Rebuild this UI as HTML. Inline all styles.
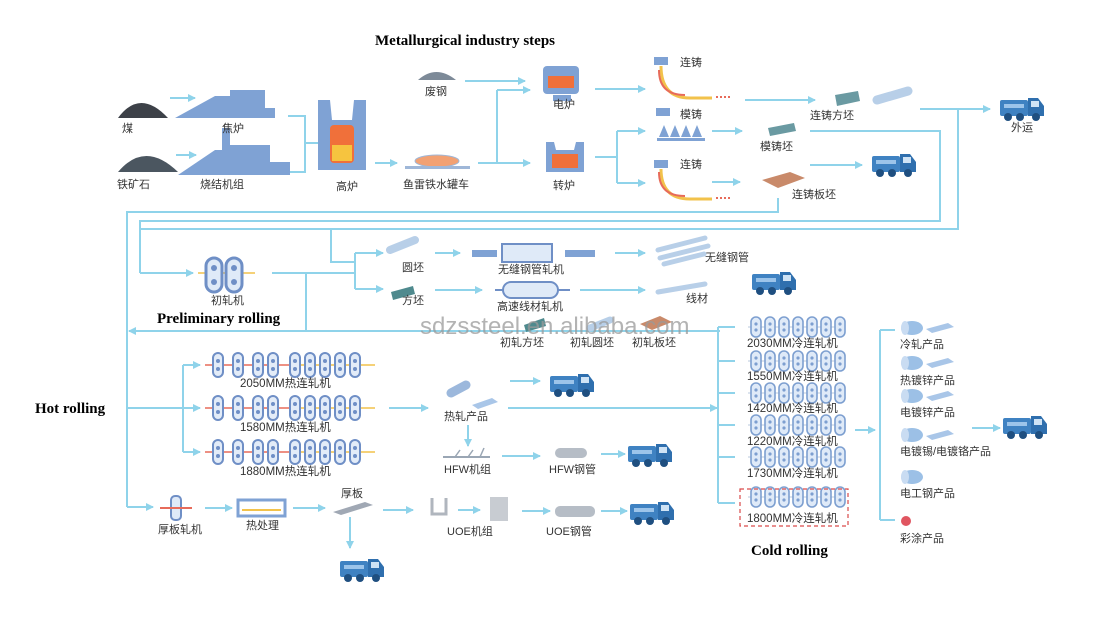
<!DOCTYPE html>
<html><head><meta charset="utf-8"><style>
html,body{margin:0;padding:0;background:#fff;}
svg{display:block;}
.t{font-family:"Liberation Sans","Noto Sans CJK SC",sans-serif;font-size:11px;fill:#333;}
.m{font-family:"Liberation Sans","Noto Sans CJK SC",sans-serif;font-size:11.5px;fill:#333;}
.h{font-family:"Liberation Serif",serif;font-size:15px;font-weight:bold;fill:#000;}
.l{stroke:#8fd3ea;stroke-width:2;fill:none;}
.a{stroke:#8fd3ea;stroke-width:2;fill:none;marker-end:url(#ar);}
</style></head><body>
<svg width="1120" height="642" viewBox="0 0 1120 642" xmlns="http://www.w3.org/2000/svg">
<defs>
<marker id="ar" markerWidth="8" markerHeight="8" refX="7" refY="4" orient="auto" markerUnits="userSpaceOnUse"><path d="M0,0 L8,4 L0,8 Z" fill="#8fd3ea"/></marker>
<g id="truck">
<rect x="0" y="6" width="28" height="16" rx="2" fill="#3f82c2"/>
<path d="M28,4 L38,4 L44,12 L44,22 L28,22 Z" fill="#2f6fae"/>
<rect x="31" y="7" width="8" height="6" fill="#cfe3f5"/>
<rect x="4" y="10" width="20" height="4" fill="#9cc4ea"/>
<circle cx="8" cy="23" r="4" fill="#1f4f80"/><circle cx="20" cy="23" r="4" fill="#1f4f80"/><circle cx="36" cy="23" r="4" fill="#1f4f80"/>
</g>
<g id="hu"><rect x="-5" y="-12" width="10" height="24" rx="5" fill="#e3ecf8" stroke="#6f8fc6" stroke-width="2"/><circle cx="0" cy="-4" r="2" fill="#6f8fc6"/><circle cx="0" cy="4" r="2" fill="#6f8fc6"/></g>
<g id="cu"><rect x="-5" y="-10" width="10" height="20" rx="5" fill="#dfeaf8" stroke="#7d9fd0" stroke-width="1.6"/><circle cx="0" cy="-3" r="1.6" fill="#7d9fd0"/><circle cx="0" cy="3" r="1.6" fill="#7d9fd0"/></g>
<g id="hrow">
<line x1="205" y1="0" x2="290" y2="0" stroke="#e76b5a" stroke-width="1.5"/><line x1="290" y1="0" x2="375" y2="0" stroke="#f2c24b" stroke-width="1.5"/>
<use href="#hu" x="218"/><use href="#hu" x="238"/><use href="#hu" x="258"/><use href="#hu" x="273"/><use href="#hu" x="295"/><use href="#hu" x="310"/><use href="#hu" x="325"/><use href="#hu" x="340"/><use href="#hu" x="355"/>
</g>
<g id="crow">
<line x1="748" y1="0" x2="845" y2="0" stroke="#b8c8dc" stroke-width="1"/>
<use href="#cu" x="756"/><use href="#cu" x="770"/><use href="#cu" x="784"/><use href="#cu" x="798"/><use href="#cu" x="812"/><use href="#cu" x="826"/><use href="#cu" x="840"/>
</g>
<g id="coil"><ellipse cx="0" cy="0" rx="11" ry="7" fill="#9cc0e6"/><ellipse cx="-7" cy="0" rx="4" ry="7" fill="#c9dcf2"/></g>
<g id="sheet"><path d="M0,4 L22,-2 L28,2 L6,8 Z" fill="#a9c6e8"/></g>
</defs>

<!-- titles -->
<text class="h" x="375" y="45">Metallurgical industry steps</text>
<text class="h" x="157" y="323">Preliminary rolling</text>
<text class="h" x="35" y="413">Hot rolling</text>
<text class="h" x="751" y="555">Cold rolling</text>

<!-- Top raw materials -->
<path d="M118,118 Q140,88 168,118 Z" fill="#3d4148"/>
<path d="M118,172 Q145,140 178,172 Z" fill="#4b5660"/>
<path d="M175,118 L215,96 L230,96 L230,90 L265,90 L265,108 L275,108 L275,118 Z" fill="#7fa2d4"/>
<path d="M178,175 L215,150 L222,150 L222,128 L230,128 L230,145 L270,145 L270,162 L290,162 L290,175 Z" fill="#7fa2d4"/>
<text class="t" x="122" y="132">煤</text><text class="t" x="222" y="132">焦炉</text>
<text class="t" x="117" y="188">铁矿石</text><text class="t" x="200" y="188">烧结机组</text>
<path class="a" d="M170,98 L195,98"/><path class="a" d="M176,155 L196,155"/>
<path class="l" d="M288,116 L305,116 L305,172 L290,172"/><path class="a" d="M305,143 L328,143"/>
<!-- blast furnace -->
<path d="M318,100 L330,100 L332,120 L352,120 L354,100 L366,100 L366,170 L318,170 Z" fill="#7fa2d4"/>
<rect x="330" y="125" width="24" height="38" rx="4" fill="#f0703a"/><rect x="332" y="145" width="20" height="16" fill="#f6c43f"/>
<text class="t" x="336" y="190">高炉</text>
<path class="a" d="M375,163 L397,163"/>
<ellipse cx="437" cy="161" rx="22" ry="6" fill="#f2a173" stroke="#9fb7d8"/><rect x="405" y="166" width="65" height="3" fill="#9fb7d8"/>
<text class="t" x="403" y="188">鱼雷铁水罐车</text>
<path class="l" d="M478,163 L497,163 L497,90"/><path class="a" d="M497,163 L530,163"/><path class="a" d="M497,90 L530,90"/>
<path d="M418,80 Q436,64 456,80 Z" fill="#7d8a98"/>
<text class="t" x="425" y="95">废钢</text>
<path class="a" d="M465,81 L525,81"/>
<!-- electric furnace -->
<rect x="543" y="66" width="36" height="28" rx="4" fill="#7fa2d4"/><rect x="548" y="76" width="26" height="12" fill="#f0703a"/><rect x="553" y="95" width="18" height="6" fill="#7fa2d4"/>
<text class="t" x="553" y="108">电炉</text>
<path d="M546,142 L554,142 L556,150 L574,150 L576,142 L584,142 L584,172 L546,172 Z" fill="#7fa2d4"/><rect x="552" y="154" width="26" height="14" fill="#f0703a"/>
<text class="t" x="553" y="189">转炉</text>
<path class="a" d="M595,89 L645,89"/>
<path class="l" d="M595,157 L617,157"/><path class="l" d="M617,131 L617,183"/><path class="a" d="M617,131 L645,131"/><path class="a" d="M617,183 L645,183"/>
<!-- casting -->
<g><rect x="654" y="57" width="14" height="8" fill="#7fa2d4"/><path d="M661,66 Q661,98 690,98 L712,98" stroke="#f2c24b" stroke-width="3" fill="none"/><path d="M659,70 Q659,95 685,95" stroke="#e76b5a" stroke-width="2" fill="none"/><line x1="716" y1="97" x2="730" y2="97" stroke="#e76b5a" stroke-width="2" stroke-dasharray="2,2"/></g>
<text class="t" x="680" y="66">连铸</text>
<g><rect x="654" y="160" width="14" height="8" fill="#7fa2d4"/><path d="M661,169 Q661,199 690,199 L712,199" stroke="#f2c24b" stroke-width="3" fill="none"/><path d="M659,172 Q659,196 685,196" stroke="#e76b5a" stroke-width="2" fill="none"/><line x1="716" y1="198" x2="730" y2="198" stroke="#e76b5a" stroke-width="2" stroke-dasharray="2,2"/></g>
<text class="t" x="680" y="168">连铸</text>
<rect x="656" y="108" width="14" height="8" fill="#7fa2d4"/>
<path d="M659,137 L664,125 L669,137 Z M670,137 L675,125 L680,137 Z M681,137 L686,125 L691,137 Z M692,137 L697,125 L702,137 Z" fill="#7fa2d4"/>
<rect x="657" y="138" width="48" height="3" fill="#7fa2d4"/>
<text class="t" x="680" y="118">模铸</text>
<path class="a" d="M745,100 L815,100"/>
<path d="M835,95 L858,91 L860,101 L837,106 Z" fill="#6a9aa2"/>
<path d="M877,100 L908,91" stroke="#b8cfe8" stroke-width="9" stroke-linecap="round"/>
<text class="t" x="810" y="119">连铸方坯</text>
<path class="a" d="M712,131 L742,131"/>
<path d="M768,128 L794,123 L796,131 L770,136 Z" fill="#6a9aa2"/>
<text class="t" x="760" y="150">模铸坯</text>
<path class="l" d="M810,131 L940,131 L940,221 L140,221 L140,273"/>
<path class="a" d="M140,273 L193,273"/>
<path class="a" d="M712,182 L740,182"/>
<path d="M762,180 L790,172 L805,178 L778,188 Z" fill="#c98a6a"/>
<text class="t" x="792" y="198">连铸板坯</text>
<path class="l" d="M778,198 L778,212 L127,212 L127,507"/>
<path class="a" d="M810,165 L862,165"/>
<use href="#truck" x="872" y="150"/>
<path class="l" d="M920,109 L958,109 L958,229 L140,229"/><path class="a" d="M958,109 L990,109"/>
<use href="#truck" x="1000" y="94"/>
<text class="t" x="1011" y="131">外运</text>

<!-- Preliminary rolling -->
<path class="l" d="M331,229 L331,262 L355,262"/><path class="l" d="M355,253 L355,289"/>
<path class="a" d="M355,253 L383,253"/><path class="a" d="M355,289 L383,289"/>
<line x1="198" y1="273" x2="255" y2="273" stroke="#f2c24b" stroke-width="1.5"/>
<rect x="206" y="258" width="16" height="34" rx="8" fill="#dfeaf8" stroke="#6f8fc6" stroke-width="3"/>
<rect x="226" y="258" width="16" height="34" rx="8" fill="#dfeaf8" stroke="#6f8fc6" stroke-width="3"/>
<circle cx="214" cy="268" r="3" fill="#6f8fc6"/><circle cx="214" cy="282" r="3" fill="#6f8fc6"/><circle cx="234" cy="268" r="3" fill="#6f8fc6"/><circle cx="234" cy="282" r="3" fill="#6f8fc6"/>
<text class="t" x="211" y="304">初轧机</text>
<path class="l" d="M272,273 L355,273"/><path class="l" d="M306,273 L306,331"/>
<path class="a" d="M720,331 L129,331"/>
<path d="M390,250 L415,240" stroke="#b8cfe8" stroke-width="8" stroke-linecap="round"/>
<text class="t" x="402" y="271">圆坯</text>
<path d="M391,292 L413,286 L415,294 L393,300 Z" fill="#4f8a8e"/>
<text class="t" x="402" y="304">方坯</text>
<path class="a" d="M435,253 L460,253"/>
<rect x="472" y="250" width="25" height="7" fill="#7fa2d4"/><rect x="502" y="244" width="50" height="18" fill="#dfeaf8" stroke="#6f8fc6" stroke-width="2"/><rect x="565" y="250" width="30" height="7" fill="#7fa2d4"/>
<text class="t" x="498" y="273">无缝钢管轧机</text>
<path class="a" d="M615,253 L645,253"/>
<path d="M658,250 L705,238 M660,258 L708,246 M664,264 L704,254" stroke="#b8cfe8" stroke-width="5" stroke-linecap="round"/>
<text class="t" x="705" y="261">无缝钢管</text>
<path class="a" d="M435,290 L482,290"/>
<line x1="495" y1="290" x2="570" y2="290" stroke="#6f8fc6" stroke-width="2"/><rect x="503" y="282" width="55" height="16" rx="8" fill="#dfeaf8" stroke="#6f8fc6" stroke-width="2"/>
<text class="t" x="497" y="310">高速线材轧机</text>
<path class="a" d="M580,290 L645,290"/>
<path d="M658,292 L705,284" stroke="#b8cfe8" stroke-width="5" stroke-linecap="round"/>
<text class="t" x="686" y="302">线材</text>
<use href="#truck" x="752" y="268"/>
<path d="M524,325 L544,318 L546,326 L526,332 Z" fill="#4f8a8e"/>
<path d="M590,328 L610,320" stroke="#b8cfe8" stroke-width="7" stroke-linecap="round"/>
<path d="M640,324 L660,316 L672,322 L652,330 Z" fill="#c98a6a"/>
<text style="font-family:'Liberation Sans',sans-serif;font-size:24px;fill:#9a9a9a;opacity:0.75" x="420" y="334">sdzssteel.en.alibaba.com</text>
<text class="t" x="500" y="346">初轧方坯</text><text class="t" x="570" y="346">初轧圆坯</text><text class="t" x="632" y="346">初轧板坯</text>

<!-- Hot rolling -->
<path class="l" d="M127,408 L183,408"/><path class="l" d="M183,365 L183,452"/>
<path class="a" d="M183,365 L200,365"/><path class="a" d="M183,408 L200,408"/><path class="a" d="M183,452 L200,452"/>
<use href="#hrow" y="365"/><use href="#hrow" y="408"/><use href="#hrow" y="452"/>
<text class="m" x="240" y="387">2050MM热连轧机</text>
<text class="m" x="240" y="431">1580MM热连轧机</text>
<text class="m" x="240" y="475">1880MM热连轧机</text>
<path class="a" d="M389,408 L428,408"/>
<path d="M451,393 L466,385" stroke="#9cb8dc" stroke-width="9" stroke-linecap="round"/>
<path d="M472,405 L492,398 L498,402 L478,409 Z" fill="#a9c6e8"/>
<text class="t" x="444" y="420">热轧产品</text>
<path class="a" d="M508,408 L717,408"/>
<path class="a" d="M510,381 L540,381"/><use href="#truck" x="550" y="370"/>
<path class="a" d="M468,425 L468,446"/>
<line x1="443" y1="457" x2="490" y2="457" stroke="#9aa6b4" stroke-width="2"/><path d="M455,457 L460,450 M468,457 L473,450 M480,457 L484,448" stroke="#9aa6b4" stroke-width="1.5"/>
<text class="t" x="444" y="473">HFW机组</text>
<path class="a" d="M502,456 L540,456"/>
<rect x="555" y="448" width="32" height="10" rx="5" fill="#b6bdc6"/>
<text class="t" x="549" y="473">HFW钢管</text>
<path class="a" d="M601,454 L625,454"/><use href="#truck" x="628" y="440"/>
<!-- plate line -->
<path class="a" d="M127,507 L153,507"/>
<rect x="171" y="496" width="10" height="24" rx="4" fill="#dfeaf8" stroke="#6f8fc6" stroke-width="2"/><line x1="160" y1="508" x2="192" y2="508" stroke="#e76b5a" stroke-width="2"/>
<text class="t" x="158" y="533">厚板轧机</text>
<path class="a" d="M205,508 L232,508"/>
<rect x="238" y="500" width="47" height="16" fill="#fff" stroke="#7fa2d4" stroke-width="3"/><line x1="242" y1="510" x2="281" y2="510" stroke="#f2c24b" stroke-width="2"/>
<text class="t" x="246" y="529">热处理</text>
<path class="a" d="M293,508 L325,508"/>
<path d="M333,512 L365,502 L373,505 L341,515 Z" fill="#a0a8b4"/>
<text class="t" x="341" y="497">厚板</text>
<path class="a" d="M350,517 L350,548"/><use href="#truck" x="340" y="555"/>
<path class="a" d="M383,510 L413,510"/>
<path d="M432,498 L432,514 L446,514 L446,498" stroke="#b0b6be" stroke-width="3" fill="none"/>
<path class="a" d="M458,510 L480,510"/>
<rect x="490" y="497" width="18" height="24" fill="#c8ccd2"/>
<text class="t" x="447" y="535">UOE机组</text>
<path class="a" d="M522,511 L550,511"/>
<rect x="555" y="506" width="40" height="11" rx="5" fill="#b6bdc6"/>
<text class="t" x="546" y="535">UOE钢管</text>
<path class="a" d="M601,511 L627,511"/><use href="#truck" x="630" y="498"/>

<!-- Cold rolling -->
<path class="l" d="M718,327 L718,503"/>
<path class="l" d="M718,327 L735,327 M718,361 L735,361 M718,393 L735,393 M718,425 L735,425 M718,457 L735,457 M718,503 L735,503"/>
<use href="#crow" y="327"/><use href="#crow" y="361"/><use href="#crow" y="393"/><use href="#crow" y="425"/><use href="#crow" y="457"/><use href="#crow" y="497"/>
<text class="m" x="747" y="347">2030MM冷连轧机</text>
<text class="m" x="747" y="380">1550MM冷连轧机</text>
<text class="m" x="747" y="412">1420MM冷连轧机</text>
<text class="m" x="747" y="445">1220MM冷连轧机</text>
<text class="m" x="747" y="477">1730MM冷连轧机</text>
<text class="m" x="747" y="522">1800MM冷连轧机</text>
<rect x="740" y="489" width="108" height="37" fill="none" stroke="#d94a4a" stroke-width="1.2" stroke-dasharray="4,3"/>
<path class="a" d="M855,430 L875,430"/>
<path class="l" d="M880,330 L880,520 M880,330 L895,330 M880,520 L895,520"/>
<use href="#coil" x="912" y="328"/><use href="#sheet" x="926" y="325"/>
<text class="t" x="900" y="348">冷轧产品</text>
<use href="#coil" x="912" y="363"/><use href="#sheet" x="926" y="360"/>
<text class="t" x="900" y="384">热镀锌产品</text>
<use href="#coil" x="912" y="396"/><use href="#sheet" x="926" y="393"/>
<text class="t" x="900" y="416">电镀锌产品</text>
<use href="#coil" x="912" y="435"/><use href="#sheet" x="926" y="432"/>
<text class="t" x="900" y="455">电镀锡/电镀铬产品</text>
<use href="#coil" x="912" y="477"/>
<text class="t" x="900" y="497">电工钢产品</text>
<circle cx="906" cy="521" r="5" fill="#e05560"/>
<text class="t" x="900" y="542">彩涂产品</text>
<path class="a" d="M972,428 L1000,428"/><use href="#truck" x="1003" y="412"/>
</svg>
</body></html>
